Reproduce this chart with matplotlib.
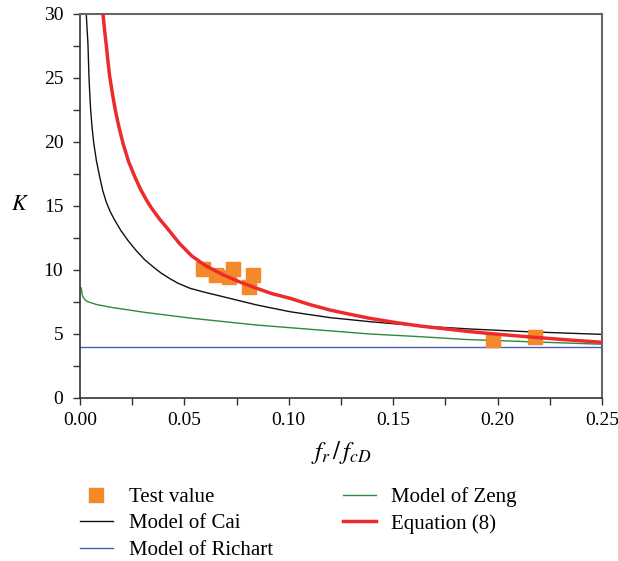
import matplotlib
matplotlib.use("Agg")
import matplotlib.pyplot as plt
from matplotlib.lines import Line2D
from matplotlib.ticker import MultipleLocator

plt.rcParams['font.family'] = ['Liberation Serif', 'DejaVu Serif']
plt.rcParams['mathtext.fontset'] = 'stix'

# Test values
test_x = [0.0589, 0.0653, 0.0715, 0.0733, 0.0808, 0.0830, 0.1980, 0.2178]
test_k = [10.04, 9.63, 9.48, 10.04, 8.67, 9.58, 4.50, 4.74]

# Model of Cai
cai_x = [0.0030, 0.0034, 0.0038, 0.0043, 0.0047, 0.0051, 0.0058, 0.0066, 0.0079,
         0.0094, 0.0109, 0.0126, 0.0145, 0.0166, 0.0195, 0.023, 0.027, 0.031,
         0.035, 0.039, 0.043, 0.047, 0.0527, 0.060, 0.0686, 0.0846, 0.1006,
         0.1197, 0.139, 0.163, 0.187, 0.214, 0.25]
cai_k = [30.0, 28.8, 27.7, 25.1, 23.7, 22.5, 21.1, 19.9, 18.5,
         17.3, 16.2, 15.3, 14.55, 13.9, 13.1, 12.3, 11.5, 10.8,
         10.25, 9.74, 9.33, 8.96, 8.57, 8.25, 7.91, 7.27, 6.74,
         6.28, 5.96, 5.62, 5.39, 5.18, 4.97]

# Model of Richart
richart_x = [0.0, 0.25]
richart_k = [4.0, 4.0]

# Model of Zeng
zeng_x = [0.0006, 0.0010, 0.0014, 0.0025, 0.0038, 0.008, 0.015, 0.031, 0.054,
          0.0846, 0.117, 0.139, 0.163, 0.185, 0.214, 0.25]
zeng_k = [8.6, 8.1, 7.9, 7.65, 7.52, 7.3, 7.08, 6.69, 6.22,
          5.70, 5.28, 5.00, 4.79, 4.57, 4.40, 4.20]

# Equation (8)
eq_x = [0.0110, 0.0118, 0.0126, 0.0134, 0.0142, 0.0155, 0.0169, 0.0186, 0.0206,
        0.0232, 0.0262, 0.0290, 0.0318, 0.0342, 0.0380, 0.0421, 0.0475, 0.0535,
        0.0600, 0.0686, 0.0760, 0.0846, 0.0920, 0.1006, 0.1100, 0.1197, 0.1290,
        0.139, 0.151, 0.163, 0.175, 0.187, 0.200, 0.214, 0.232, 0.25]
eq_k = [30.0, 28.7, 27.55, 26.3, 25.15, 23.8, 22.5, 21.2, 19.9,
        18.5, 17.3, 16.3, 15.47, 14.85, 14.0, 13.2, 12.1, 11.1,
        10.35, 9.62, 9.1, 8.57, 8.15, 7.79, 7.3, 6.875, 6.55,
        6.22, 5.9, 5.62, 5.4, 5.18, 4.98, 4.79, 4.56, 4.35]

labels = ["Test value", "Model of Cai", "Model of Richart", "Model of Zeng", "Equation (8)"]

c_orange = '#F4892C'
c_black = '#111111'
c_blue = '#4B5FB0'
c_green = '#2E8A3E'
c_red = '#EE2B2B'

fig = plt.figure(figsize=(6.18, 5.61), dpi=100)
ax = fig.add_axes([80/618, 1 - 398/561, (602-80)/618, (398-14)/561])

ax.plot(richart_x, richart_k, color=c_blue, lw=1.0, zorder=2)
ax.plot(zeng_x, zeng_k, color=c_green, lw=1.0, zorder=2)
ax.plot(cai_x, cai_k, color=c_black, lw=1.0, zorder=2)
ax.plot(test_x, test_k, 's', color=c_orange, ms=10, mec=c_orange, zorder=3)
ax.plot(eq_x, eq_k, color=c_red, lw=2.5, zorder=4)

ax.set_xlim(0, 0.25)
ax.set_ylim(0, 30)
ax.xaxis.set_major_locator(MultipleLocator(0.05))
ax.xaxis.set_minor_locator(MultipleLocator(0.025))
ax.yaxis.set_major_locator(MultipleLocator(5))
ax.yaxis.set_minor_locator(MultipleLocator(2.5))
ax.set_xticklabels([f"{v:.2f}" for v in ax.get_xticks()])
ax.tick_params(which='both', direction='out', length=5, width=1.0, color='#333333',
               labelsize=14, pad=5)
ax.tick_params(axis='y', pad=7)

for s in ['left', 'bottom']:
    ax.spines[s].set_color('#333333')
    ax.spines[s].set_linewidth(1.2)
for s in ['top', 'right']:
    ax.spines[s].set_color('#666666')
    ax.spines[s].set_linewidth(1.5)

ax.set_ylabel('$K$', rotation=0, fontsize=16, labelpad=17, va='center')
ax.set_xlabel(r'$f_r\,/\,f_{cD}$', fontsize=18, labelpad=7)

handles = [
    Line2D([], [], marker='s', ls='none', color=c_orange, ms=10),
    Line2D([], [], color=c_black, lw=1.0),
    Line2D([], [], color=c_blue, lw=1.0),
    Line2D([], [], color=c_green, lw=1.0),
    Line2D([], [], color=c_red, lw=2.5),
]
fig.legend(handles, labels, ncol=2, loc='upper left', bbox_to_anchor=(80/618, 1 - 487/561),
           frameon=False, fontsize=15, handlelength=1.58, handletextpad=0.75,
           columnspacing=3.36, labelspacing=0.33, borderpad=0, borderaxespad=0)

fig.savefig('out.png', dpi=100)
